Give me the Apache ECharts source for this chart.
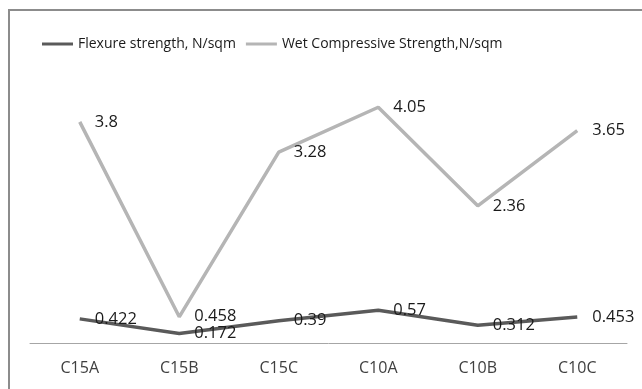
<!DOCTYPE html>
<html>
<head>
<meta charset="utf-8">
<script src="https://cdn.jsdelivr.net/npm/echarts@6/dist/echarts.min.js"></script>
<style>
  html, body { margin: 0; padding: 0; background: #ffffff; }
  #chart { width: 642px; height: 389px; }
</style>
</head>
<body>
<div id="chart"></div>
<script>
// Mix designations along the x axis
const categories = ['C15A', 'C15B', 'C15C', 'C10A', 'C10B', 'C10C'];
// Series values (N/sqm)
const flexureStrength = [0.422, 0.172, 0.39, 0.57, 0.312, 0.453];
const wetCompressive = [3.8, 0.458, 3.28, 4.05, 2.36, 3.65];
const seriesNames = ['Flexure strength, N/sqm', 'Wet Compressive Strength,N/sqm'];

const FONT = '"Open Sans", "Noto Sans", sans-serif';

const chart = echarts.init(document.getElementById('chart'), null, { renderer: 'canvas' });

const labelStyle = {
  show: true,
  position: 'right',
  distance: 15,
  color: '#1a1a1a',
  fontFamily: FONT,
  fontSize: 16.5
};

chart.setOption({
  animation: false,
  backgroundColor: '#ffffff',
  graphic: [{
    type: 'polyline',
    shape: { points: [[9, 389], [9, 10], [642, 10]] },
    style: { stroke: '#8c8c8c', lineWidth: 2, fill: null },
    silent: true
  }],
  legend: {
    top: 32,
    left: 37,
    icon: 'rect',
    itemWidth: 31,
    itemHeight: 3,
    itemGap: 10,
    textStyle: { fontFamily: FONT, fontSize: 14, color: '#1a1a1a' },
    data: seriesNames
  },
  grid: { left: 30, right: 15, top: 81, bottom: 45.5 },
  xAxis: {
    type: 'category',
    data: categories,
    boundaryGap: true,
    axisLine: { lineStyle: { color: '#a6a6a6', width: 1 } },
    axisTick: { show: false },
    axisLabel: { color: '#404040', fontFamily: FONT, fontSize: 16, margin: 17 }
  },
  yAxis: {
    type: 'value',
    min: 0,
    max: 4.5,
    interval: 0.5,
    show: false,
    splitLine: { show: false }
  },
  series: [
    {
      name: seriesNames[0],
      type: 'line',
      data: flexureStrength,
      symbol: 'circle',
      symbolSize: 0,
      showSymbol: true,
      lineStyle: { color: '#5a5a5a', width: 3.5 },
      itemStyle: { color: '#5a5a5a' },
      label: labelStyle,
      z: 3
    },
    {
      name: seriesNames[1],
      type: 'line',
      data: wetCompressive,
      symbol: 'circle',
      symbolSize: 0,
      showSymbol: true,
      lineStyle: { color: '#b5b5b5', width: 3.5 },
      itemStyle: { color: '#b5b5b5' },
      label: labelStyle,
      z: 2
    }
  ]
});
</script>
</body>
</html>
